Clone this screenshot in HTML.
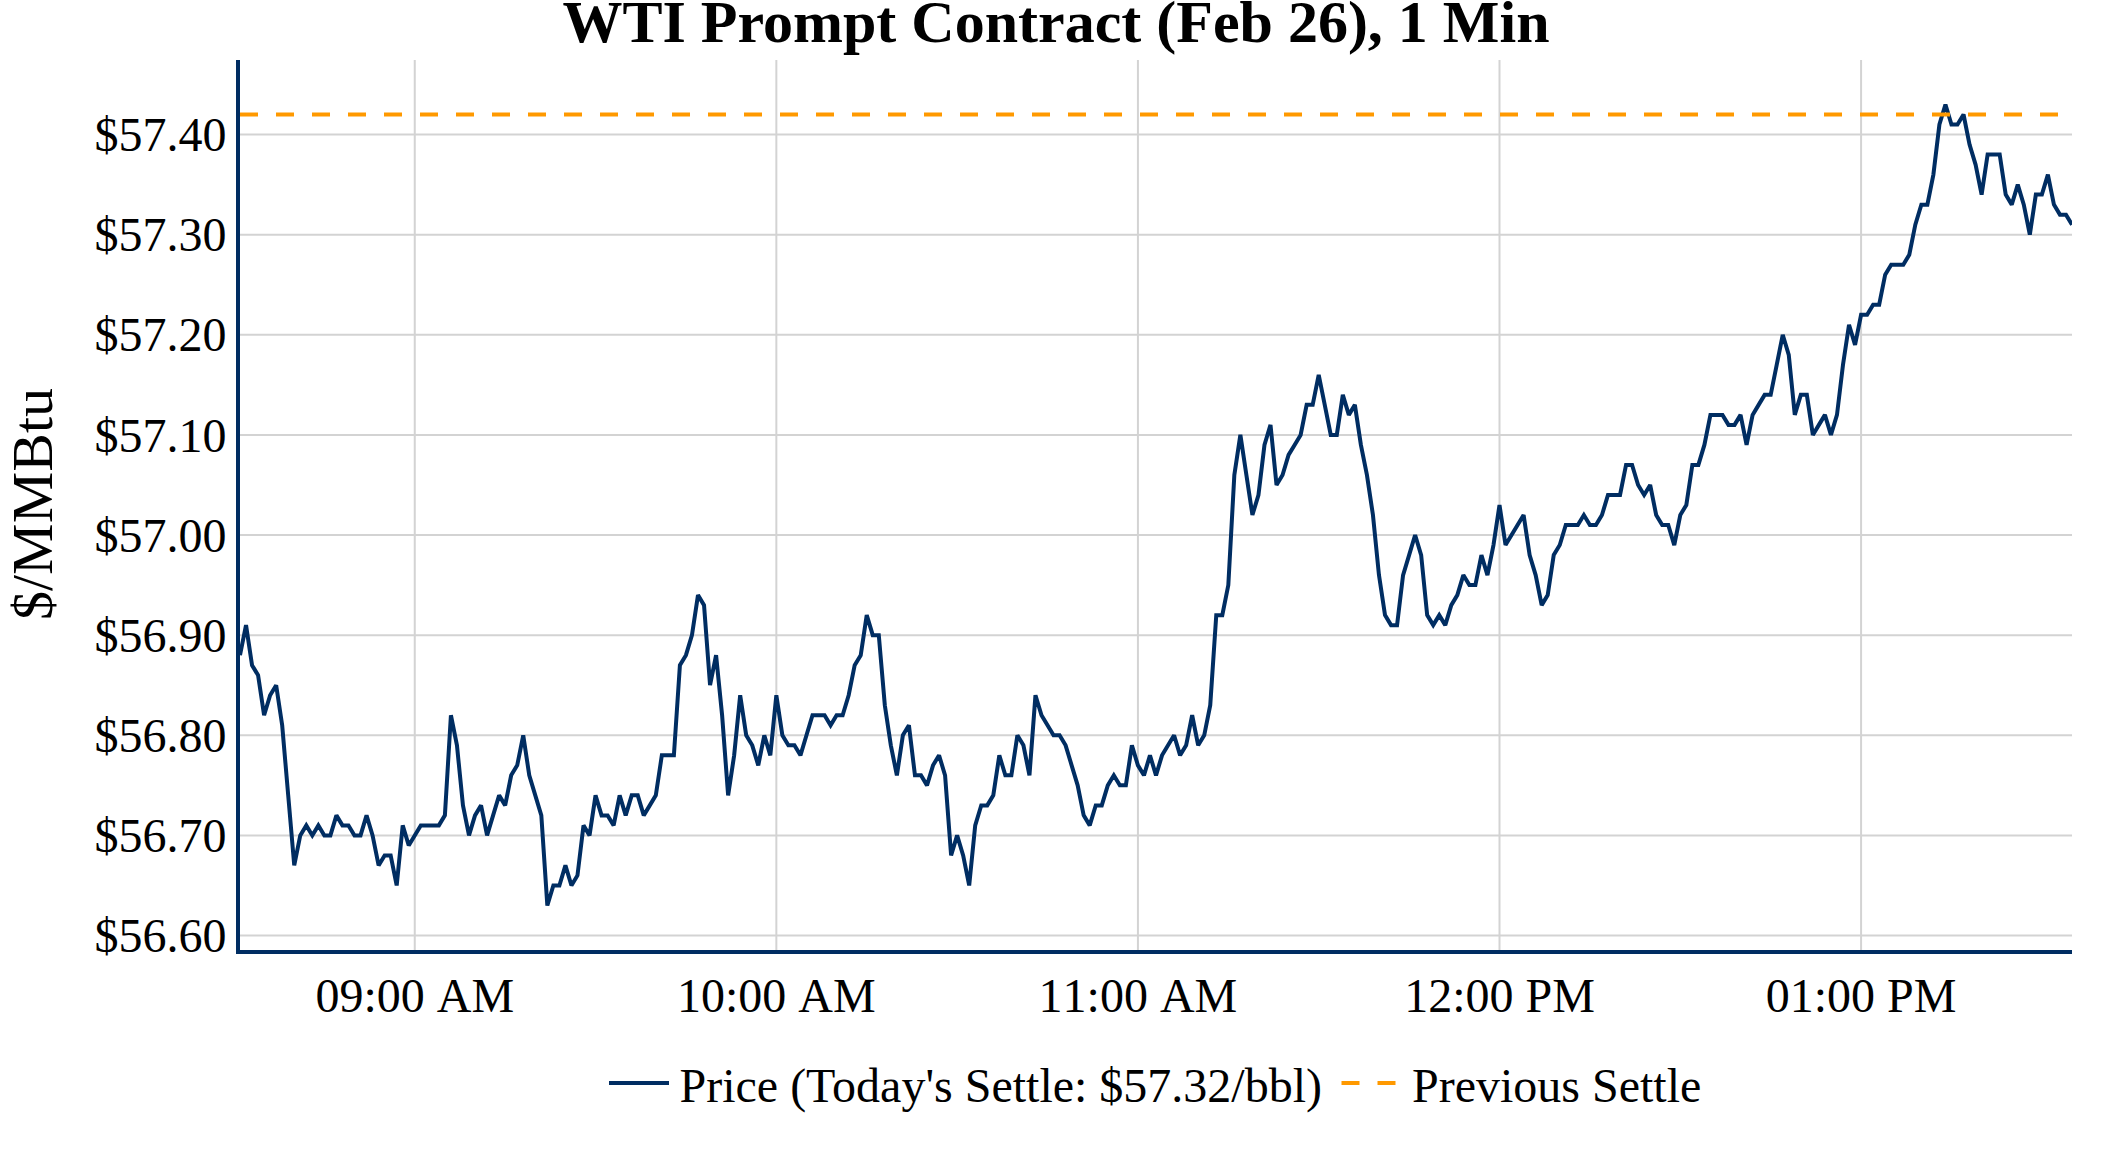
<!DOCTYPE html>
<html lang="en">
<head>
<meta charset="utf-8">
<title>WTI Prompt Contract (Feb 26), 1 Min</title>
<style>
html,body{margin:0;padding:0;background:#ffffff;width:2112px;height:1152px;overflow:hidden}
body{position:relative;font-family:"Liberation Serif",serif}
</style>
</head>
<body>
<svg width="2112" height="1152" viewBox="0 0 2112 1152" style="display:block;position:absolute;left:0;top:0">
<rect x="0" y="0" width="2112" height="1152" fill="#ffffff"/>
<defs><clipPath id="plotclip"><rect x="240" y="60" width="1832" height="890"/></clipPath></defs>
<g stroke="#d3d3d3" stroke-width="2" fill="none">
<line x1="414.76" y1="60" x2="414.76" y2="950"/>
<line x1="776.34" y1="60" x2="776.34" y2="950"/>
<line x1="1137.92" y1="60" x2="1137.92" y2="950"/>
<line x1="1499.50" y1="60" x2="1499.50" y2="950"/>
<line x1="1861.08" y1="60" x2="1861.08" y2="950"/>
<line x1="240" y1="134.54" x2="2072" y2="134.54"/>
<line x1="240" y1="234.66" x2="2072" y2="234.66"/>
<line x1="240" y1="334.79" x2="2072" y2="334.79"/>
<line x1="240" y1="434.91" x2="2072" y2="434.91"/>
<line x1="240" y1="535.04" x2="2072" y2="535.04"/>
<line x1="240" y1="635.16" x2="2072" y2="635.16"/>
<line x1="240" y1="735.29" x2="2072" y2="735.29"/>
<line x1="240" y1="835.41" x2="2072" y2="835.41"/>
<line x1="240" y1="935.54" x2="2072" y2="935.54"/>
</g>
<rect x="236" y="60" width="4" height="894" fill="#002d62"/>
<rect x="236" y="950" width="1836" height="4" fill="#002d62"/>
<g clip-path="url(#plotclip)">
<polyline points="240.00,655.19 246.03,625.15 252.05,665.20 258.08,675.21 264.11,715.26 270.13,695.24 276.16,685.22 282.18,725.27 288.21,795.36 294.24,865.45 300.26,835.41 306.29,825.40 312.32,835.41 318.34,825.40 324.37,835.41 330.39,835.41 336.42,815.39 342.45,825.40 348.47,825.40 354.50,835.41 360.53,835.41 366.55,815.39 372.58,835.41 378.61,865.45 384.63,855.44 390.66,855.44 396.68,885.48 402.71,825.40 408.74,845.43 414.76,835.41 420.79,825.40 426.82,825.40 432.84,825.40 438.87,825.40 444.89,815.39 450.92,715.26 456.95,745.30 462.97,805.38 469.00,835.41 475.03,815.39 481.05,805.38 487.08,835.41 493.11,815.39 499.13,795.36 505.16,805.38 511.18,775.34 517.21,765.32 523.24,735.29 529.26,775.34 535.29,795.36 541.32,815.39 547.34,905.50 553.37,885.48 559.39,885.48 565.42,865.45 571.45,885.48 577.47,875.46 583.50,825.40 589.53,835.41 595.55,795.36 601.58,815.39 607.61,815.39 613.63,825.40 619.66,795.36 625.68,815.39 631.71,795.36 637.74,795.36 643.76,815.39 649.79,805.38 655.82,795.36 661.84,755.31 667.87,755.31 673.89,755.31 679.92,665.20 685.95,655.19 691.97,635.16 698.00,595.11 704.03,605.12 710.05,685.22 716.08,655.19 722.11,715.26 728.13,795.36 734.16,755.31 740.18,695.24 746.21,735.29 752.24,745.30 758.26,765.32 764.29,735.29 770.32,755.31 776.34,695.24 782.37,735.29 788.39,745.30 794.42,745.30 800.45,755.31 806.47,735.29 812.50,715.26 818.53,715.26 824.55,715.26 830.58,725.27 836.61,715.26 842.63,715.26 848.66,695.24 854.68,665.20 860.71,655.19 866.74,615.14 872.76,635.16 878.79,635.16 884.82,705.25 890.84,745.30 896.87,775.34 902.89,735.29 908.92,725.27 914.95,775.34 920.97,775.34 927.00,785.35 933.03,765.32 939.05,755.31 945.08,775.34 951.11,855.44 957.13,835.41 963.16,855.44 969.18,885.48 975.21,825.40 981.24,805.38 987.26,805.38 993.29,795.36 999.32,755.31 1005.34,775.34 1011.37,775.34 1017.39,735.29 1023.42,745.30 1029.45,775.34 1035.47,695.24 1041.50,715.26 1047.53,725.27 1053.55,735.29 1059.58,735.29 1065.61,745.30 1071.63,765.32 1077.66,785.35 1083.68,815.39 1089.71,825.40 1095.74,805.38 1101.76,805.38 1107.79,785.35 1113.82,775.34 1119.84,785.35 1125.87,785.35 1131.89,745.30 1137.92,765.32 1143.95,775.34 1149.97,755.31 1156.00,775.34 1162.03,755.31 1168.05,745.30 1174.08,735.29 1180.11,755.31 1186.13,745.30 1192.16,715.26 1198.18,745.30 1204.21,735.29 1210.24,705.25 1216.26,615.14 1222.29,615.14 1228.32,585.10 1234.34,474.96 1240.37,434.91 1246.39,474.96 1252.42,515.01 1258.45,494.99 1264.47,444.92 1270.50,424.90 1276.53,484.98 1282.55,474.96 1288.58,454.94 1294.61,444.92 1300.63,434.91 1306.66,404.87 1312.68,404.87 1318.71,374.84 1324.74,404.87 1330.76,434.91 1336.79,434.91 1342.82,394.86 1348.84,414.89 1354.87,404.87 1360.89,444.92 1366.92,474.96 1372.95,515.01 1378.97,575.09 1385.00,615.14 1391.03,625.15 1397.05,625.15 1403.08,575.09 1409.11,555.06 1415.13,535.04 1421.16,555.06 1427.18,615.14 1433.21,625.15 1439.24,615.14 1445.26,625.15 1451.29,605.12 1457.32,595.11 1463.34,575.09 1469.37,585.10 1475.39,585.10 1481.42,555.06 1487.45,575.09 1493.47,545.05 1499.50,505.00 1505.53,545.05 1511.55,535.04 1517.58,525.03 1523.61,515.01 1529.63,555.06 1535.66,575.09 1541.68,605.12 1547.71,595.11 1553.74,555.06 1559.76,545.05 1565.79,525.03 1571.82,525.03 1577.84,525.03 1583.87,515.01 1589.89,525.03 1595.92,525.03 1601.95,515.01 1607.97,494.99 1614.00,494.99 1620.03,494.99 1626.05,464.95 1632.08,464.95 1638.11,484.98 1644.13,494.99 1650.16,484.98 1656.18,515.01 1662.21,525.03 1668.24,525.03 1674.26,545.05 1680.29,515.01 1686.32,505.00 1692.34,464.95 1698.37,464.95 1704.39,444.92 1710.42,414.89 1716.45,414.89 1722.47,414.89 1728.50,424.90 1734.53,424.90 1740.55,414.89 1746.58,444.92 1752.61,414.89 1758.63,404.87 1764.66,394.86 1770.68,394.86 1776.71,364.82 1782.74,334.79 1788.76,354.81 1794.79,414.89 1800.82,394.86 1806.84,394.86 1812.87,434.91 1818.89,424.90 1824.92,414.89 1830.95,434.91 1836.97,414.89 1843.00,364.82 1849.03,324.77 1855.05,344.80 1861.08,314.76 1867.11,314.76 1873.13,304.75 1879.16,304.75 1885.18,274.71 1891.21,264.70 1897.24,264.70 1903.26,264.70 1909.29,254.69 1915.32,224.65 1921.34,204.63 1927.37,204.63 1933.39,174.59 1939.42,124.53 1945.45,104.50 1951.47,124.53 1957.50,124.53 1963.53,114.51 1969.55,144.55 1975.58,164.58 1981.61,194.61 1987.63,154.56 1993.66,154.56 1999.68,154.56 2005.71,194.61 2011.74,204.63 2017.76,184.60 2023.79,204.63 2029.82,234.66 2035.84,194.61 2041.87,194.61 2047.89,174.59 2053.92,204.63 2059.95,214.64 2065.97,214.64 2072.00,224.65" fill="none" stroke="#002d62" stroke-width="4" stroke-linejoin="miter" stroke-miterlimit="2" stroke-linecap="butt"/>
<line x1="240" y1="114.51" x2="2072" y2="114.51" stroke="#ff9900" stroke-width="4" stroke-dasharray="18,18"/>
</g>
<g style="font-family:'Liberation Serif',serif;font-size:48px" fill="#000000">
<text x="226.5" y="151.14" text-anchor="end">$57.40</text>
<text x="226.5" y="251.26" text-anchor="end">$57.30</text>
<text x="226.5" y="351.39" text-anchor="end">$57.20</text>
<text x="226.5" y="451.51" text-anchor="end">$57.10</text>
<text x="226.5" y="551.64" text-anchor="end">$57.00</text>
<text x="226.5" y="651.76" text-anchor="end">$56.90</text>
<text x="226.5" y="751.89" text-anchor="end">$56.80</text>
<text x="226.5" y="852.01" text-anchor="end">$56.70</text>
<text x="226.5" y="952.14" text-anchor="end">$56.60</text>
<text x="414.76" y="1012" text-anchor="middle" style="font-kerning:none">09:00 AM</text>
<text x="776.34" y="1012" text-anchor="middle" style="font-kerning:none">10:00 AM</text>
<text x="1137.92" y="1012" text-anchor="middle" style="font-kerning:none">11:00 AM</text>
<text x="1499.50" y="1012" text-anchor="middle" style="font-kerning:none">12:00 PM</text>
<text x="1861.08" y="1012" text-anchor="middle" style="font-kerning:none">01:00 PM</text>
</g>
<text x="1056" y="41.5" text-anchor="middle" style="font-family:'Liberation Serif',serif;font-size:60px;font-weight:bold" fill="#000000">WTI Prompt Contract (Feb 26), 1 Min</text>
<text transform="translate(52,504) rotate(-90)" text-anchor="middle" style="font-family:'Liberation Serif',serif;font-size:58px" fill="#000000">$/MMBtu</text>
<line x1="609" y1="1083" x2="669" y2="1083" stroke="#002d62" stroke-width="4"/>
<text x="679.5" y="1101.5" style="font-family:'Liberation Serif',serif;font-size:48px" fill="#000000">Price (Today's Settle: $57.32/bbl)</text>
<line x1="1341.5" y1="1083" x2="1401.5" y2="1083" stroke="#ff9900" stroke-width="4" stroke-dasharray="18,18"/>
<text x="1412" y="1101.5" style="font-family:'Liberation Serif',serif;font-size:48px" fill="#000000">Previous Settle</text>
</svg>
</body>
</html>
